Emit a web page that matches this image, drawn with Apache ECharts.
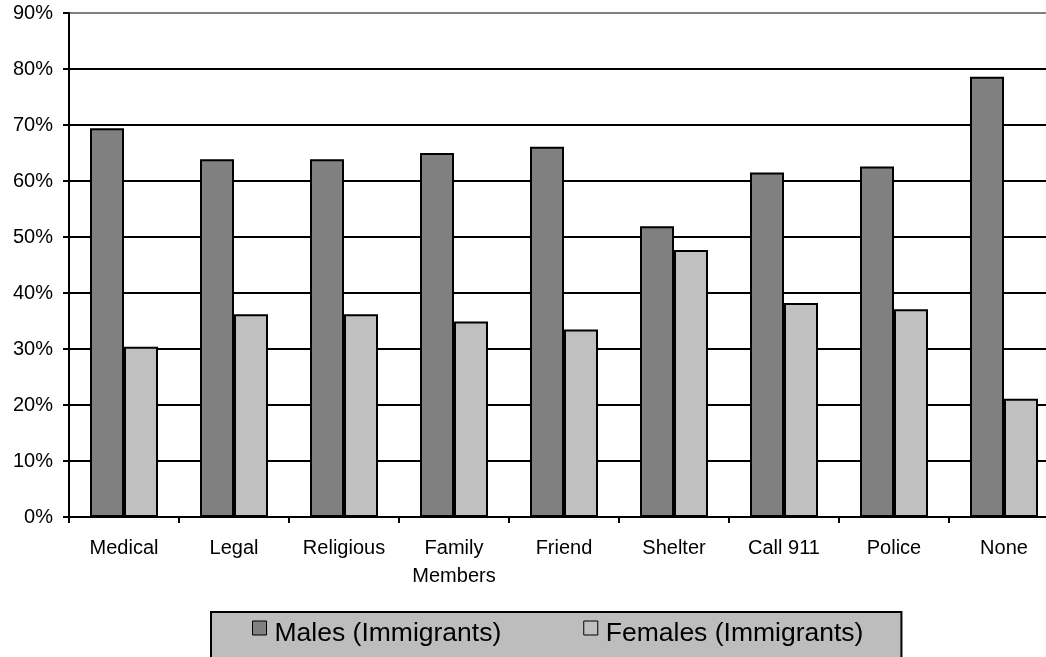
<!DOCTYPE html>
<html>
<head>
<meta charset="utf-8">
<script src="https://cdn.jsdelivr.net/npm/echarts@6/dist/echarts.min.js"></script>
<style>
  html, body { margin: 0; padding: 0; background: #fff; overflow: hidden; }
  /* plot runs past the right edge of the window, as in the original */
  #chart { width: 1059px; height: 657px; }
</style>
</head>
<body>
<div id="chart"></div>
<script>
const categories = ["Medical", "Legal", "Religious", "Family\nMembers", "Friend", "Shelter", "Call 911", "Police", "None"]
const males = [69.4, 63.9, 63.9, 65.0, 66.1, 51.9, 61.5, 62.6, 78.6]
const females = [30.4, 36.2, 36.2, 34.9, 33.5, 47.7, 38.2, 37.1, 21.1]
const seriesNames = ["Males (Immigrants)", "Females (Immigrants)"]

const font = "Liberation Sans, Arial, sans-serif"
// last split line (90%) is the gray plot border
const gridColors = ["#000", "#000", "#000", "#000", "#000", "#000", "#000", "#000", "#000", "#808080"]
// square sitting in the top of a taller box, so the marker rides above the text centre
const legendIcon = "path://M0,0L14,0L14,14L0,14Z M0,25L0,25"

const chart = echarts.init(document.getElementById("chart"), null, { renderer: "canvas" })

chart.setOption({
  animation: false,
  textStyle: { fontFamily: font, color: "#000" },
  grid: { left: 69, top: 13, right: 0, height: 504, containLabel: false },
  legend: {
    left: 211,
    top: 612,
    padding: [8, 38, 40, 41],
    backgroundColor: "#bdbdbd",
    borderColor: "#000",
    borderWidth: 2,
    borderRadius: 0,
    itemGap: 82,
    itemWidth: 14,
    itemHeight: 25,
    icon: legendIcon,
    itemStyle: { borderColor: "#000", borderWidth: 1 },
    textStyle: { fontFamily: font, fontSize: 26.5, color: "#000", padding: [0, 0, 0, 3] },
    data: seriesNames
  },
  xAxis: {
    type: "category",
    data: categories,
    axisLine: { lineStyle: { color: "#000", width: 2 } },
    axisTick: { show: true, length: 6, lineStyle: { color: "#000", width: 2 } },
    axisLabel: {
      fontFamily: font,
      fontSize: 20,
      color: "#000",
      margin: 17,
      lineHeight: 28,
      interval: 0
    },
    splitLine: { show: false }
  },
  yAxis: {
    type: "value",
    min: 0,
    max: 90,
    interval: 10,
    axisLine: { show: true, lineStyle: { color: "#000", width: 2 } },
    axisTick: { show: true, length: 6, lineStyle: { color: "#000", width: 2 } },
    axisLabel: {
      fontFamily: font,
      fontSize: 20,
      color: "#000",
      margin: 16,
      formatter: "{value}%"
    },
    splitLine: { show: true, lineStyle: { color: gridColors, width: 2 } }
  },
  series: [
    {
      name: seriesNames[0],
      type: "bar",
      data: males,
      barWidth: 34,
      barGap: "0%",
      itemStyle: { color: "#808080", borderColor: "#000", borderWidth: 2 }
    },
    {
      name: seriesNames[1],
      type: "bar",
      data: females,
      barWidth: 34,
      barGap: "0%",
      itemStyle: { color: "#c0c0c0", borderColor: "#000", borderWidth: 2 }
    }
  ]
})
</script>
</body>
</html>
